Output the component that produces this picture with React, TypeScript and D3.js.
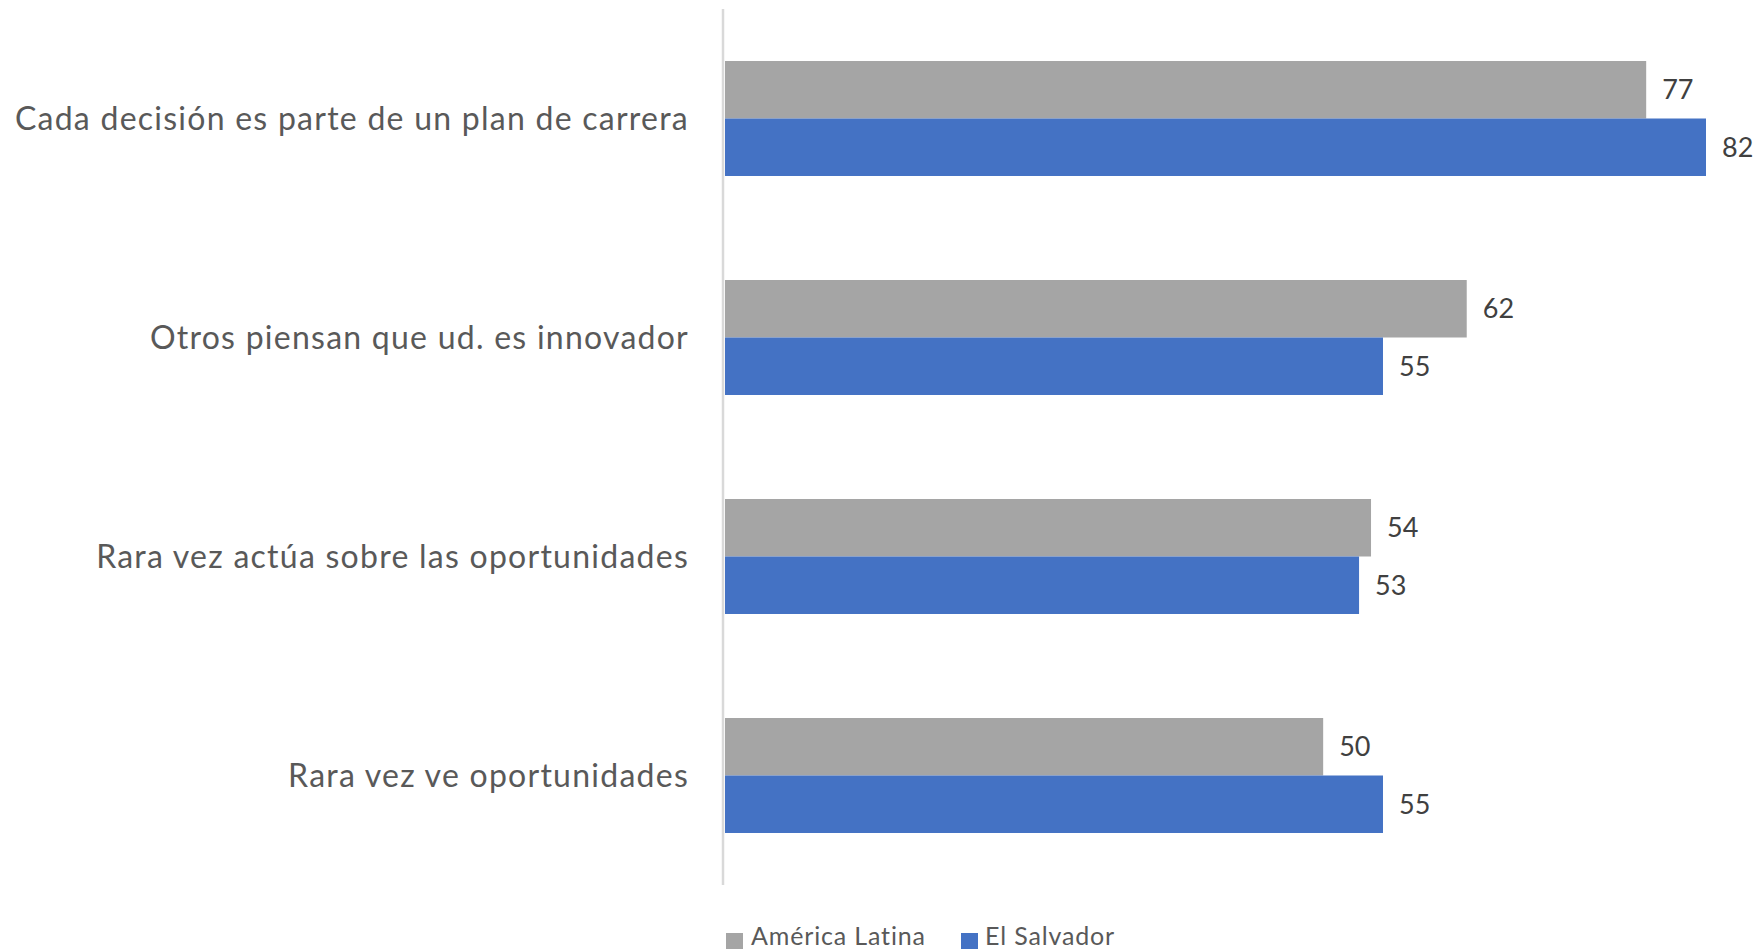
import React, { useEffect } from "react";
import * as d3 from "d3";

const categories = [
  "Cada decisión es parte de un plan de carrera",
  "Otros piensan que ud. es innovador",
  "Rara vez actúa sobre las oportunidades",
  "Rara vez ve oportunidades",
];
const seriesNames = ["América Latina", "El Salvador"];
const americaLatina = [77, 62, 54, 50];
const elSalvador = [82, 55, 53, 55];
const seriesColors = ["#a5a5a5", "#4472c4"];

const W = 1763;
const H = 951;

export default function App() {
  useEffect(() => {
    document.body.style.margin = "0";
  }, []);

  const x = d3.scaleLinear().domain([0, 82]).range([725, 1706]);
  const y = d3
    .scaleBand<string>()
    .domain(categories)
    .range([9, 885])
    .paddingInner(0.475)
    .paddingOuter(0.2375);
  const sub = d3
    .scaleBand<string>()
    .domain(seriesNames)
    .range([0, y.bandwidth()]);
  const values = [americaLatina, elSalvador];
  const font = "Lato, 'Open Sans', sans-serif";

  return (
    <svg width={W} height={H} style={{ display: "block", background: "#fff" }}>
      {categories.map((c, i) => (
        <g key={c}>
          {seriesNames.map((s, si) => {
            const v = values[si][i];
            const y0 = (y(c) as number) + (sub(s) as number);
            return (
              <g key={s}>
                <rect
                  x={x(0)}
                  y={y0}
                  width={x(v) - x(0)}
                  height={sub.bandwidth()}
                  fill={seriesColors[si]}
                />
                <text
                  x={x(v) + 16}
                  y={y0 + sub.bandwidth() / 2}
                  dy="0.35em"
                  fontFamily={font}
                  fontSize={27}
                  fill="#404040"
                >
                  {v}
                </text>
              </g>
            );
          })}
          <text
            x={689}
            y={(y(c) as number) + y.bandwidth() / 2}
            dy="0.35em"
            textAnchor="end"
            fontFamily={font}
            fontSize={32}
            letterSpacing={1.25}
            fill="#595959"
          >
            {c}
          </text>
        </g>
      ))}
      <line x1={723} x2={723} y1={9} y2={885} stroke="#d9d9d9" strokeWidth={2.5} />
      <g fontFamily={font} fontSize={25} letterSpacing={0.85} fill="#595959">
        <rect x={726} y={933} width={17} height={16} fill={seriesColors[0]} />
        <text x={751} y={945}>{seriesNames[0]}</text>
        <rect x={961} y={933} width={17} height={16} fill={seriesColors[1]} />
        <text x={985} y={945}>{seriesNames[1]}</text>
      </g>
    </svg>
  );
}
